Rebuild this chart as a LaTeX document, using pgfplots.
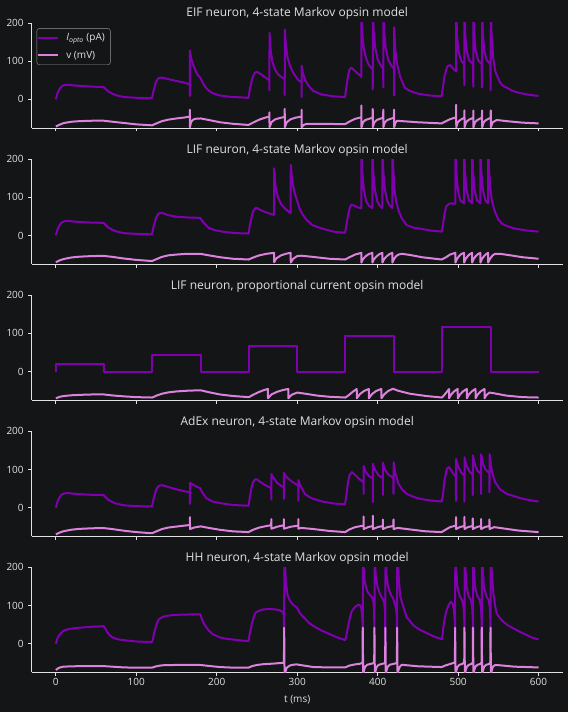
\documentclass[border=0pt]{standalone}
\usepackage{pgfplots}
\pgfplotsset{compat=1.18}
\usepackage{fontspec}
\setmainfont{Open Sans}
\definecolor{bg}{RGB}{19,21,23}
\definecolor{fg}{RGB}{225,225,225}
\definecolor{iopto}{RGB}{128,0,176}
\definecolor{vcol}{RGB}{220,130,220}
\definecolor{legedge}{RGB}{150,150,150}
\pgfplotsset{
  panel/.style={
    scale only axis, width=531pt, height=105pt,
    xmin=-30, xmax=630, ymin=-75, ymax=200,
    axis x line*=bottom, axis y line*=left,
    axis line style={-, fg, line width=0.8pt},
    xtick={0,100,200,300,400,500,600}, ytick={0,100,200},
    tick style={fg, line width=0.8pt},
    tick align=outside, major tick length=3.5pt,
    /pgf/number format/assume math mode=true,
    tick label style={font=\fontsize{10}{12}\selectfont, text=fg},
    yticklabel style={xshift=-1pt},
    xticklabel style={yshift=1pt},
    title style={font=\fontsize{12}{14}\selectfont, text=fg, at={(0.5,1)}, anchor=base},
    label style={font=\fontsize{10}{12}\selectfont, text=fg},
    xlabel style={yshift=-3pt},
    anchor=south west,
  },
  ip/.style={iopto, line width=2pt, line join=round},
  vp/.style={vcol, line width=2pt, line join=round},
}
\begin{document}
\begin{tikzpicture}
\fill[bg] (0,0) rectangle (568pt,712pt);
% ---------------- Panel 1: EIF
\begin{axis}[panel, at={(31.7pt,584pt)}, xticklabels={},
  title={EIF neuron, 4-state Markov opsin model},
  legend style={at={(0.0094,0.95)}, anchor=north west, draw=legedge, fill=bg, rounded corners=2.5pt,
    text=fg, font=\fontsize{10}{12}\selectfont, inner xsep=0.5pt, inner ysep=3pt, row sep=5pt,
    nodes={inner xsep=2pt, inner ysep=2pt},
    /tikz/every odd column/.append style={column sep=5pt}},
  legend cell align=left,
  legend image code/.code={\draw[#1] (0pt,0pt) -- (20pt,0pt);},
]
\addplot[ip] coordinates {(0,0) (2,15) (4,25) (6,31) (8,35) (11,37.5) (15,38) (25,36) (40,34) (59.5,32) (62,27) (65,21) (70,15) (76,10) (85,6) (100,4) (119.5,3) (121,18) (123,35) (125,48) (128,56) (132,57) (140,53) (150,48) (160,44) (166.5,39) (166.6,9) (166.7,128) (168,110) (170,95) (173,78) (176,65) (179.5,57) (183,42) (186,32) (190,23) (195,16) (204,10) (215,7) (239.5,4) (241,25) (243,45) (245,60) (247.5,70) (250,72) (255,66) (260,58) (265.4,50) (265.5,24) (265.6,174) (267,130) (269,100) (272,80) (276,66) (280,59) (284.4,54) (284.5,11) (284.6,183) (286,140) (288,110) (291,88) (295,70) (299.5,56) (302,49) (305.4,45) (305.5,6) (305.6,88) (307,70) (310,50) (315,33) (320,22) (330,13) (345,8) (359.5,6) (361,30) (363,60) (365,78) (367,83) (370,78) (375,68) (379.7,60) (379.8,58) (379.9,250) (381,170) (383,130) (386,105) (389,90) (393.8,78) (393.9,26) (394,250) (395,180) (397,135) (400,105) (403,92) (406.9,80) (407,31) (407.1,250) (408,180) (410,135) (413,105) (417,88) (420.3,80) (420.4,10) (420.5,189) (422,130) (424,95) (428,59) (433.6,31) (440,22) (450,15) (465,10) (479.5,8) (481,30) (483,60) (486.5,86) (490,90) (494,80) (497.5,73) (497.6,250) (498.6,170) (500.6,125) (503.6,102) (507.3,92) (507.8,37) (507.9,250) (508.9,170) (510.9,125) (513.9,102) (518.4,92) (518.9,33) (519,250) (520,170) (522,125) (525,102) (529.2,92) (529.7,31) (529.8,250) (530.8,170) (532.8,125) (535.8,102) (540,92) (540.5,24) (540.6,250) (541.6,170) (543.6,110) (546,75) (548,64) (552,45) (556,35) (560,31) (568,22) (576,17) (588,12) (600,9)};
\addlegendentry{\textit{I}\textsubscript{\textit{opto}} (pA)\hspace*{3pt}}
\addplot[vp] coordinates {(0,-71) (5,-66) (10,-62) (20,-58.5) (30,-57) (45,-56) (59.5,-56) (70,-58.5) (85,-62) (100,-65.5) (119.5,-68) (125,-63) (132,-57) (140,-53) (150,-50) (160,-47.5) (166.5,-45) (166.6,-27) (166.7,-73) (168,-60) (170,-54) (173,-51) (180,-50) (190,-54) (204,-60) (220,-64) (239.5,-67) (245,-61) (253,-53) (260,-48) (265.4,-45) (265.5,-34) (265.6,-73) (268,-60) (272,-53) (278,-49) (284.4,-46) (284.5,-25) (284.6,-73) (287,-60) (292,-52) (298,-48) (305.4,-45) (305.5,-27) (305.6,-73) (308,-67) (312,-64) (330,-64) (359.5,-65) (365,-58) (372,-51) (379.7,-47) (379.8,-16) (379.9,-73) (381.8,-60) (384.8,-54) (393.7,-48) (393.9,-25) (394,-73) (395.9,-60) (398.9,-54) (406.8,-48) (407,-27) (407.1,-73) (409,-60) (412,-54) (420.2,-48) (420.4,-27) (420.5,-73) (422,-62) (424,-56) (430,-57) (450,-60) (479.5,-63) (485,-57) (490,-52) (497.5,-47) (497.6,-14) (497.7,-73) (499.6,-60) (502.6,-54) (507.7,-48) (507.9,-29) (508,-73) (509.9,-60) (512.9,-54) (518.8,-48) (519,-29) (519.1,-73) (521,-60) (524,-54) (529.6,-48) (529.8,-29) (529.9,-73) (531.8,-60) (534.8,-54) (540.4,-48) (540.6,-29) (540.7,-73) (543,-60) (548,-54) (560,-57) (580,-61) (600,-63)};
\addlegendentry{v (mV)}
\end{axis}
% ---------------- Panel 2: LIF Markov
\begin{axis}[panel, at={(31.7pt,447.9pt)}, xticklabels={},
  title={LIF neuron, 4-state Markov opsin model}]
\addplot[ip] coordinates {(0,0) (2,15) (4,25) (6,31) (8,35) (11,37.5) (15,38) (25,36) (40,34) (59.5,33) (62,27) (65,21) (70,15) (76,10) (85,6) (100,4) (119.5,3) (121,18) (123,35) (125,48) (128,58) (132,59) (140,53) (150,49) (165,47) (179.5,46) (182,38) (186,28) (190,20) (197,14) (210,9) (225,6) (239.5,5) (241,25) (243,45) (245,62) (247.5,71) (250,72) (255,66) (262,60) (271.2,54) (271.3,176) (273,130) (276,100) (280,82) (285,70) (291.9,58) (292,185) (294,140) (297,110) (299.5,94) (303,70) (307,54) (312,40) (319,27) (331,18) (345,10) (359.5,7) (361,25) (363,50) (365,70) (367,80) (370,79) (375,74) (379.7,71) (379.8,250) (380.8,170) (382.8,120) (385.8,90) (389,78) (393.4,72) (393.5,250) (394.5,170) (396.5,120) (399.5,90) (402.5,78) (405.9,72) (406,250) (407,170) (409,120) (412,90) (415,78) (418.2,72) (418.3,250) (419.5,170) (421,120) (423,89) (426,65) (430,45) (436,27) (445,20) (452.6,18) (465,13) (479.5,10) (481,25) (483,55) (485,75) (488,82) (491,84) (496.6,83) (496.7,250) (497.7,170) (499.7,120) (502.7,92) (507.4,84) (507.5,250) (508.5,170) (510.5,120) (513.5,92) (517.4,84) (517.5,250) (518.5,170) (520.5,120) (523.5,92) (527.7,84) (527.8,250) (528.8,170) (530.8,120) (533.8,92) (537.3,84) (537.4,250) (538.5,170) (540,125) (542,90) (545.8,62) (550,42) (554,32) (560,25) (570.6,18) (585,13) (600,10)};
\addplot[vp] coordinates {(0,-70) (5,-65) (10,-61.5) (20,-57.5) (30,-55.5) (45,-54) (59.5,-53.5) (70,-56) (85,-60.5) (100,-64) (119.5,-67) (125,-62) (132,-56) (140,-52) (150,-50) (160,-48.5) (179.5,-48) (190,-52) (204,-57) (220,-61) (239.5,-63) (245,-58) (253,-52) (262,-48) (271.2,-45.5) (271.3,-70) (274,-60) (280,-52) (286,-48) (291.9,-45.5) (292,-71) (295,-61) (300,-54) (305,-53) (319,-56) (340,-61) (359.5,-63) (365,-57) (372,-50) (379.7,-45.5) (379.8,-71) (381.8,-62) (384.8,-55) (388.8,-49) (393.4,-45.5) (393.5,-71) (395.5,-62) (398.5,-55) (402,-49) (405.9,-45.5) (406,-71) (408,-62) (411,-55) (414.5,-49) (418.2,-45.5) (418.3,-71) (420.5,-61) (423,-54) (426,-50) (430,-48) (440,-51) (455,-57) (479.5,-63) (485,-57) (490,-50) (496.6,-45.5) (496.7,-71) (498.7,-61) (501.2,-54) (503.7,-49) (507.4,-45.5) (507.5,-71) (509.5,-61) (512,-54) (514.5,-49) (517.4,-45.5) (517.5,-71) (519.5,-61) (522,-54) (524.5,-49) (527.7,-45.5) (527.8,-71) (529.8,-61) (532.3,-54) (534.8,-49) (537.3,-45.5) (537.4,-71) (540,-60) (543,-52) (546,-48) (552,-48) (565,-52) (580,-57) (600,-61)};
\end{axis}
% ---------------- Panel 3: LIF proportional
\begin{axis}[panel, at={(31.7pt,311.8pt)}, xticklabels={},
  title={LIF neuron, proportional current opsin model}]
\addplot[ip] coordinates {(0,0) (0,20) (60,20) (60,0) (120,0) (120,43.6) (180,43.6) (180,0) (240,0) (240,68) (300,68) (300,0) (360,0) (360,92) (420,92) (420,0) (480,0) (480,116) (540.3,116) (540.3,0) (600,0)};
\addplot[vp] coordinates {(0,-70) (5,-66) (10,-64) (20,-62) (30,-61) (45,-60) (60,-60) (70,-62.5) (85,-65) (100,-67) (120,-68) (125,-63) (132,-58) (140,-54.5) (150,-52) (165,-50) (180,-49) (190,-54) (204,-60) (220,-64) (240,-67) (245,-61) (252,-54) (258,-49) (263.6,-45.5) (263.7,-70) (268,-60) (275,-53) (282,-48.5) (288.9,-45.5) (289,-70) (293,-61) (300,-55) (310,-58) (325,-63) (340,-66) (360,-68) (364,-62) (369,-53) (374,-45.5) (374.1,-70) (378,-59) (383,-51) (389,-45.5) (389.1,-70) (393,-59) (398,-51) (404.6,-45.5) (404.7,-70) (408,-60) (413,-51) (419,-45) (425,-50) (440,-58) (460,-64) (480,-68) (483,-61) (486,-53) (488.7,-46) (488.8,-70) (491,-61) (495,-52) (499.5,-45.5) (499.6,-70) (502,-61) (506,-52) (510.8,-45.5) (510.9,-70) (513,-61) (517,-52) (521.6,-45.5) (521.7,-70) (524,-61) (528,-52) (532.8,-45.5) (532.9,-70) (535,-62) (539,-55) (545,-57) (560,-63) (580,-67) (600,-68)};
\end{axis}
% ---------------- Panel 4: AdEx
\begin{axis}[panel, at={(31.7pt,175.7pt)}, xticklabels={},
  title={AdEx neuron, 4-state Markov opsin model}]
\addplot[ip] coordinates {(0,0) (2,15) (4,25) (6,31) (8,35) (11,37.5) (15,38) (25,36) (40,34) (59.5,33) (62,27) (65,21) (70,15) (76,10) (85,6) (100,4) (119.5,3) (121,18) (123,35) (125,48) (128,57) (132,59) (140,54) (150,48) (160,43) (166.6,40) (166.7,10) (166.8,65) (170,61) (175,55) (179.5,51) (182,40) (187,25) (195,16) (204,12) (220,7) (239.5,5) (241,25) (243,50) (245,66) (247.5,74) (250,74) (255,66) (262,57) (267.7,51) (267.8,21) (267.9,88) (270,80) (275,65) (280,57) (283.3,53) (283.4,23) (283.5,91) (286,82) (290,74) (295,66) (300,59) (301.3,57) (301.4,18) (301.5,72) (304,58) (309.6,36) (315,28) (320,23) (331.5,16) (345,11) (359.5,9) (361,30) (363,65) (365,85) (368,93) (372,86) (377,75) (382.4,67) (382.5,36) (382.6,109) (385,95) (389,83) (393.9,76) (394,14) (394.1,115) (397,98) (401,85) (406.4,77) (406.5,33) (406.6,118) (409,100) (413,87) (419.6,78) (419.7,36) (419.8,119) (422,90) (426,62) (431,46) (436.3,36) (445,28) (453,23) (465,19) (479.5,16) (481,30) (483,70) (486,102) (489,106) (493,92) (497.3,80) (497.4,18) (497.5,128) (500,108) (504,92) (507.8,84) (507.9,16) (508,132) (510,112) (514,95) (518.1,86) (518.2,33) (518.3,137) (521,112) (524,97) (528.5,88) (528.6,36) (528.7,140) (531,115) (534,100) (538.9,90) (539,40) (539.1,140) (542,95) (546,67) (552,48) (560.6,36) (570,30) (577,25) (588,20) (600,16)};
\addplot[vp] coordinates {(0,-70) (5,-65) (10,-61.5) (20,-57.5) (30,-55.5) (45,-54) (59.5,-53.5) (70,-56) (85,-60.5) (100,-64) (119.5,-67) (125,-62) (132,-56) (140,-52) (150,-49.5) (160,-47) (166.6,-45.5) (166.7,-25) (166.8,-56) (172,-52) (180,-49) (190,-53) (204,-58) (220,-62) (239.5,-64) (245,-58) (253,-52) (262,-48) (267.7,-46) (267.8,-30) (267.9,-55) (275,-50) (283.3,-46) (283.4,-30) (283.5,-55) (292,-50) (301.3,-47) (301.4,-30) (301.5,-55) (305,-53) (320,-56) (340,-61) (359.5,-64) (365,-57) (372,-51) (382.4,-47) (382.5,-23) (382.6,-56) (388,-51) (393.9,-48) (394,-21) (394.1,-56) (400,-51) (406.4,-48) (406.5,-31) (406.6,-56) (412,-51) (419.6,-48) (419.7,-31) (419.8,-56) (425,-53) (440,-57) (460,-62) (479.5,-64) (485,-57) (490,-51) (497.3,-47) (497.4,-25) (497.5,-56) (502,-51) (507.8,-48) (507.9,-24) (508,-56) (512,-51) (518.1,-48) (518.2,-28) (518.3,-56) (523,-51) (528.5,-48) (528.6,-30) (528.7,-56) (533,-51) (538.9,-48) (539,-31) (539.1,-56) (545,-51) (555,-54) (575,-60) (600,-64)};
\end{axis}
% ---------------- Panel 5: HH
\begin{axis}[panel, at={(31.7pt,39.6pt)},
  title={HH neuron, 4-state Markov opsin model}, xlabel={t (ms)}]
\addplot[ip] coordinates {(0,0) (2,14) (4,22) (6,27) (9,33) (12,36) (16,38.5) (24,41) (33,42.6) (45,44.5) (59.5,46) (62,38) (64,30) (66.7,23) (70,17) (75,13) (79,11) (90,8) (100,6) (119.5,4.3) (121,15) (122,27) (124,42) (125.5,52) (127.4,62) (130,67) (134,71) (138,73) (145,75) (158,76.5) (179.5,77) (181,68) (183,57) (186,46) (190,35) (195,25) (204,16.5) (212,13) (220.6,11) (230,8.5) (239.5,7) (240.5,20) (242,36) (244,55) (246,70) (248,81) (252,86) (258,90) (266,91) (274.4,89.6) (279,87) (282,83) (283.5,75) (283.8,-10) (284,260) (285,200) (286,160) (288,128) (291,112) (295,102) (299.5,95) (301,90) (304,78) (309.6,66) (315,54) (322,44) (330,35) (338.6,27) (348,18) (359.5,9.6) (360.5,15) (361.6,27) (363.5,48) (365.7,70) (368,86) (372,96.5) (376,102.6) (378,101) (379.5,95) (380.7,75) (381.3,50) (381.5,-10) (381.7,260) (383,180) (384.5,157) (387.4,136) (390.7,127) (393,122) (394.8,110) (395.7,80) (396,-10) (396.2,260) (397.5,180) (399.8,150) (403,130) (406,118) (408,110) (409.2,85) (409.6,-10) (409.8,260) (411,180) (413,150) (416,130) (419.3,118) (420.5,110) (422,100) (423.7,80) (424.2,-10) (424.4,260) (426,180) (428,125) (430,110) (436,70) (445,47) (453,36) (462,27) (470,19) (479.6,12) (480.5,20) (481.7,44) (483.5,68) (485.8,88) (488,100) (490.8,110) (493.3,105) (495,85) (496.1,50) (496.3,-10) (496.5,260) (497.5,200) (499,150) (502,125) (505,114) (506.8,95) (507.7,60) (507.9,-10) (508.1,260) (509,200) (510.5,150) (513,125) (516,114) (517.5,95) (518.3,60) (518.5,-10) (518.7,260) (519.7,200) (521,150) (524,125) (527,114) (528.5,95) (529.2,60) (529.4,-10) (529.6,260) (530.6,200) (532,150) (535,125) (538,114) (539.4,95) (540.1,60) (540.3,-10) (540.5,260) (542,180) (544,130) (546,100) (548,79) (552,67) (556.5,57) (562,48) (569,40) (577,31) (585.5,22.6) (592,16) (600,11.3)};
\addplot[vp] coordinates {(0,-68.7) (3,-64) (6,-61.5) (9.5,-60) (20,-59) (40,-58.5) (59.5,-58.5) (70,-60) (85,-62) (100,-62.6) (119.5,-62.6) (124,-59.5) (130,-57) (135,-56) (150,-55.5) (179.5,-55.5) (190,-58) (204,-61) (220,-62.5) (239.5,-62.5) (244,-58.5) (250,-55.5) (258,-53.5) (270,-52) (282,-50) (283.5,-48) (283.8,42) (284.3,-80) (285.5,-72) (287,-63) (290.8,-57) (295,-55) (299,-54) (305,-56) (320,-61) (340,-62) (359.5,-62) (365,-57) (372,-54) (379,-52) (381.2,-49) (381.5,42) (382,-80) (383,-70) (384.5,-60) (387,-55) (390.7,-53) (394.5,-51) (395.7,-49) (396,42) (396.5,-80) (397.5,-70) (399,-60) (401.5,-55) (405,-53) (408.5,-51) (409.3,-49) (409.6,42) (410.1,-80) (411,-70) (412.5,-60) (415,-55) (419,-53) (423,-51) (423.9,-49) (424.2,42) (424.7,-80) (425.7,-70) (427.5,-60) (430,-55) (435,-56) (450,-59) (479.6,-61) (484,-57) (490,-53) (494.5,-50) (496,-49) (496.3,42) (496.8,-80) (497.8,-70) (499.3,-60) (501.8,-55) (505,-53) (507.6,-49) (507.9,42) (508.4,-80) (509.4,-70) (510.9,-60) (513.4,-55) (516.5,-53) (518.2,-49) (518.5,42) (519,-80) (520,-70) (521.5,-60) (524,-55) (527.5,-53) (529.1,-49) (529.4,42) (529.9,-80) (530.9,-70) (532.4,-60) (534.9,-55) (538.5,-53) (540,-49) (540.3,42) (540.8,-80) (541.8,-70) (543.3,-60) (545.8,-56) (550,-56) (570,-60) (600,-62)};
\end{axis}
\end{tikzpicture}
\end{document}
